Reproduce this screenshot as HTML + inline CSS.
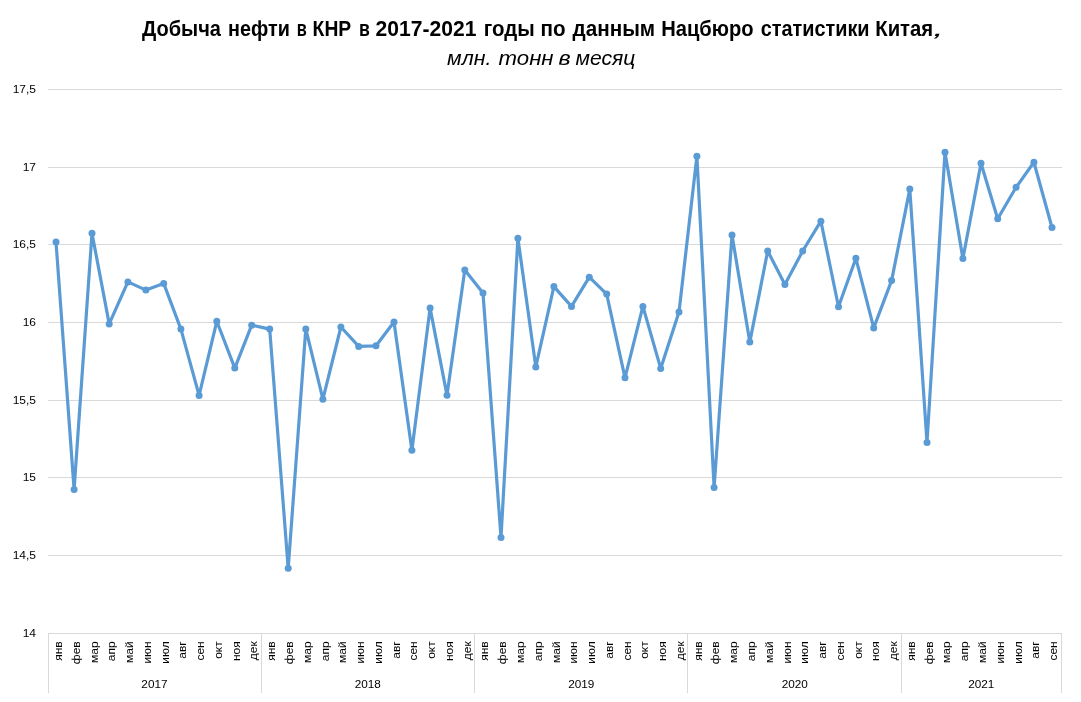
<!DOCTYPE html>
<html><head><meta charset="utf-8"><style>
html,body{margin:0;padding:0;background:#fff;width:1081px;height:702px;overflow:hidden}
svg{display:block;will-change:transform}
text{font-family:"Liberation Sans",sans-serif;fill:#000}
.ax{font-size:12px}
.mo{font-size:12px}
.t1{font-size:21.3px;font-weight:bold}
.t2{font-size:19.7px;font-style:italic;font-weight:normal}
</style></head><body>
<svg width="1081" height="702" viewBox="0 0 1081 702">
<rect x="48" y="89" width="1014" height="1" fill="#d9d9d9"/>
<rect x="48" y="167" width="1014" height="1" fill="#d9d9d9"/>
<rect x="48" y="244" width="1014" height="1" fill="#d9d9d9"/>
<rect x="48" y="322" width="1014" height="1" fill="#d9d9d9"/>
<rect x="48" y="400" width="1014" height="1" fill="#d9d9d9"/>
<rect x="48" y="477" width="1014" height="1" fill="#d9d9d9"/>
<rect x="48" y="555" width="1014" height="1" fill="#d9d9d9"/>
<rect x="48" y="633" width="1014" height="1" fill="#d9d9d9"/>
<rect x="48" y="633" width="1" height="60" fill="#d9d9d9"/>
<rect x="261" y="633" width="1" height="60" fill="#d9d9d9"/>
<rect x="474" y="633" width="1" height="60" fill="#d9d9d9"/>
<rect x="687" y="633" width="1" height="60" fill="#d9d9d9"/>
<rect x="901" y="633" width="1" height="60" fill="#d9d9d9"/>
<rect x="1061" y="633" width="1" height="60" fill="#d9d9d9"/>
<text transform="translate(36,93.3) scale(1,0.91)" text-anchor="end" class="ax">17,5</text>
<text transform="translate(36,171.3) scale(1,0.91)" text-anchor="end" class="ax">17</text>
<text transform="translate(36,248.3) scale(1,0.91)" text-anchor="end" class="ax">16,5</text>
<text transform="translate(36,326.3) scale(1,0.91)" text-anchor="end" class="ax">16</text>
<text transform="translate(36,404.3) scale(1,0.91)" text-anchor="end" class="ax">15,5</text>
<text transform="translate(36,481.3) scale(1,0.91)" text-anchor="end" class="ax">15</text>
<text transform="translate(36,559.3) scale(1,0.91)" text-anchor="end" class="ax">14,5</text>
<text transform="translate(36,637.3) scale(1,0.91)" text-anchor="end" class="ax">14</text>
<text transform="translate(61.9,641.3) rotate(-90) scale(1,0.9)" text-anchor="end" class="mo">янв</text>
<text transform="translate(79.7,641.3) rotate(-90) scale(1,0.9)" text-anchor="end" class="mo">фев</text>
<text transform="translate(97.5,641.3) rotate(-90) scale(1,0.9)" text-anchor="end" class="mo">мар</text>
<text transform="translate(115.2,641.3) rotate(-90) scale(1,0.9)" text-anchor="end" class="mo">апр</text>
<text transform="translate(133.0,641.3) rotate(-90) scale(1,0.9)" text-anchor="end" class="mo">май</text>
<text transform="translate(150.8,641.3) rotate(-90) scale(1,0.9)" text-anchor="end" class="mo">июн</text>
<text transform="translate(168.5,641.3) rotate(-90) scale(1,0.9)" text-anchor="end" class="mo">июл</text>
<text transform="translate(186.3,641.3) rotate(-90) scale(1,0.9)" text-anchor="end" class="mo">авг</text>
<text transform="translate(204.1,641.3) rotate(-90) scale(1,0.9)" text-anchor="end" class="mo">сен</text>
<text transform="translate(221.9,641.3) rotate(-90) scale(1,0.9)" text-anchor="end" class="mo">окт</text>
<text transform="translate(239.6,641.3) rotate(-90) scale(1,0.9)" text-anchor="end" class="mo">ноя</text>
<text transform="translate(257.4,641.3) rotate(-90) scale(1,0.9)" text-anchor="end" class="mo">дек</text>
<text transform="translate(275.2,641.3) rotate(-90) scale(1,0.9)" text-anchor="end" class="mo">янв</text>
<text transform="translate(292.9,641.3) rotate(-90) scale(1,0.9)" text-anchor="end" class="mo">фев</text>
<text transform="translate(310.7,641.3) rotate(-90) scale(1,0.9)" text-anchor="end" class="mo">мар</text>
<text transform="translate(328.5,641.3) rotate(-90) scale(1,0.9)" text-anchor="end" class="mo">апр</text>
<text transform="translate(346.2,641.3) rotate(-90) scale(1,0.9)" text-anchor="end" class="mo">май</text>
<text transform="translate(364.0,641.3) rotate(-90) scale(1,0.9)" text-anchor="end" class="mo">июн</text>
<text transform="translate(381.8,641.3) rotate(-90) scale(1,0.9)" text-anchor="end" class="mo">июл</text>
<text transform="translate(399.6,641.3) rotate(-90) scale(1,0.9)" text-anchor="end" class="mo">авг</text>
<text transform="translate(417.3,641.3) rotate(-90) scale(1,0.9)" text-anchor="end" class="mo">сен</text>
<text transform="translate(435.1,641.3) rotate(-90) scale(1,0.9)" text-anchor="end" class="mo">окт</text>
<text transform="translate(452.9,641.3) rotate(-90) scale(1,0.9)" text-anchor="end" class="mo">ноя</text>
<text transform="translate(470.6,641.3) rotate(-90) scale(1,0.9)" text-anchor="end" class="mo">дек</text>
<text transform="translate(488.4,641.3) rotate(-90) scale(1,0.9)" text-anchor="end" class="mo">янв</text>
<text transform="translate(506.2,641.3) rotate(-90) scale(1,0.9)" text-anchor="end" class="mo">фев</text>
<text transform="translate(523.9,641.3) rotate(-90) scale(1,0.9)" text-anchor="end" class="mo">мар</text>
<text transform="translate(541.7,641.3) rotate(-90) scale(1,0.9)" text-anchor="end" class="mo">апр</text>
<text transform="translate(559.5,641.3) rotate(-90) scale(1,0.9)" text-anchor="end" class="mo">май</text>
<text transform="translate(577.3,641.3) rotate(-90) scale(1,0.9)" text-anchor="end" class="mo">июн</text>
<text transform="translate(595.0,641.3) rotate(-90) scale(1,0.9)" text-anchor="end" class="mo">июл</text>
<text transform="translate(612.8,641.3) rotate(-90) scale(1,0.9)" text-anchor="end" class="mo">авг</text>
<text transform="translate(630.6,641.3) rotate(-90) scale(1,0.9)" text-anchor="end" class="mo">сен</text>
<text transform="translate(648.3,641.3) rotate(-90) scale(1,0.9)" text-anchor="end" class="mo">окт</text>
<text transform="translate(666.1,641.3) rotate(-90) scale(1,0.9)" text-anchor="end" class="mo">ноя</text>
<text transform="translate(683.9,641.3) rotate(-90) scale(1,0.9)" text-anchor="end" class="mo">дек</text>
<text transform="translate(701.6,641.3) rotate(-90) scale(1,0.9)" text-anchor="end" class="mo">янв</text>
<text transform="translate(719.4,641.3) rotate(-90) scale(1,0.9)" text-anchor="end" class="mo">фев</text>
<text transform="translate(737.2,641.3) rotate(-90) scale(1,0.9)" text-anchor="end" class="mo">мар</text>
<text transform="translate(754.9,641.3) rotate(-90) scale(1,0.9)" text-anchor="end" class="mo">апр</text>
<text transform="translate(772.7,641.3) rotate(-90) scale(1,0.9)" text-anchor="end" class="mo">май</text>
<text transform="translate(790.5,641.3) rotate(-90) scale(1,0.9)" text-anchor="end" class="mo">июн</text>
<text transform="translate(808.3,641.3) rotate(-90) scale(1,0.9)" text-anchor="end" class="mo">июл</text>
<text transform="translate(826.0,641.3) rotate(-90) scale(1,0.9)" text-anchor="end" class="mo">авг</text>
<text transform="translate(843.8,641.3) rotate(-90) scale(1,0.9)" text-anchor="end" class="mo">сен</text>
<text transform="translate(861.6,641.3) rotate(-90) scale(1,0.9)" text-anchor="end" class="mo">окт</text>
<text transform="translate(879.3,641.3) rotate(-90) scale(1,0.9)" text-anchor="end" class="mo">ноя</text>
<text transform="translate(897.1,641.3) rotate(-90) scale(1,0.9)" text-anchor="end" class="mo">дек</text>
<text transform="translate(914.9,641.3) rotate(-90) scale(1,0.9)" text-anchor="end" class="mo">янв</text>
<text transform="translate(932.6,641.3) rotate(-90) scale(1,0.9)" text-anchor="end" class="mo">фев</text>
<text transform="translate(950.4,641.3) rotate(-90) scale(1,0.9)" text-anchor="end" class="mo">мар</text>
<text transform="translate(968.2,641.3) rotate(-90) scale(1,0.9)" text-anchor="end" class="mo">апр</text>
<text transform="translate(986.0,641.3) rotate(-90) scale(1,0.9)" text-anchor="end" class="mo">май</text>
<text transform="translate(1003.7,641.3) rotate(-90) scale(1,0.9)" text-anchor="end" class="mo">июн</text>
<text transform="translate(1021.5,641.3) rotate(-90) scale(1,0.9)" text-anchor="end" class="mo">июл</text>
<text transform="translate(1039.3,641.3) rotate(-90) scale(1,0.9)" text-anchor="end" class="mo">авг</text>
<text transform="translate(1057.0,641.3) rotate(-90) scale(1,0.9)" text-anchor="end" class="mo">сен</text>
<text transform="translate(154.4,688.2) scale(0.98,0.91)" text-anchor="middle" class="ax">2017</text>
<text transform="translate(367.8,688.2) scale(0.98,0.91)" text-anchor="middle" class="ax">2018</text>
<text transform="translate(581.3,688.2) scale(0.98,0.91)" text-anchor="middle" class="ax">2019</text>
<text transform="translate(794.7,688.2) scale(0.98,0.91)" text-anchor="middle" class="ax">2020</text>
<text transform="translate(981.3,688.2) scale(0.98,0.91)" text-anchor="middle" class="ax">2021</text>
<polyline points="56.0,242.0 74.1,489.4 92.0,233.2 109.2,323.9 127.9,281.9 145.9,290.1 163.7,283.4 180.9,329.1 199.1,395.4 216.8,321.3 234.8,368.1 251.7,325.2 269.7,329.1 288.2,568.3 305.8,328.9 322.9,399.2 340.9,327.0 358.7,346.4 376.0,345.8 394.0,322.0 411.9,450.2 430.1,308.1 447.0,395.3 464.8,270.0 483.0,293.1 501.0,537.5 517.9,238.2 535.8,366.9 553.9,286.6 571.5,306.4 589.3,277.2 606.7,294.1 625.0,377.8 642.9,306.4 660.7,368.4 679.0,312.0 696.9,156.2 714.1,487.5 732.0,235.0 749.8,342.1 767.7,251.0 784.9,284.5 802.7,251.0 820.9,221.2 838.5,306.8 855.9,258.3 873.7,327.9 891.6,280.6 909.8,189.1 927.0,442.5 945.0,152.3 962.9,258.6 981.0,163.2 997.7,218.7 1016.1,187.3 1033.9,162.3 1052.0,227.5" fill="none" stroke="#5b9bd5" stroke-width="3.2" stroke-linejoin="round" stroke-linecap="round"/>
<circle cx="56.0" cy="242.0" r="3.5" fill="#5b9bd5"/>
<circle cx="74.1" cy="489.4" r="3.5" fill="#5b9bd5"/>
<circle cx="92.0" cy="233.2" r="3.5" fill="#5b9bd5"/>
<circle cx="109.2" cy="323.9" r="3.5" fill="#5b9bd5"/>
<circle cx="127.9" cy="281.9" r="3.5" fill="#5b9bd5"/>
<circle cx="145.9" cy="290.1" r="3.5" fill="#5b9bd5"/>
<circle cx="163.7" cy="283.4" r="3.5" fill="#5b9bd5"/>
<circle cx="180.9" cy="329.1" r="3.5" fill="#5b9bd5"/>
<circle cx="199.1" cy="395.4" r="3.5" fill="#5b9bd5"/>
<circle cx="216.8" cy="321.3" r="3.5" fill="#5b9bd5"/>
<circle cx="234.8" cy="368.1" r="3.5" fill="#5b9bd5"/>
<circle cx="251.7" cy="325.2" r="3.5" fill="#5b9bd5"/>
<circle cx="269.7" cy="329.1" r="3.5" fill="#5b9bd5"/>
<circle cx="288.2" cy="568.3" r="3.5" fill="#5b9bd5"/>
<circle cx="305.8" cy="328.9" r="3.5" fill="#5b9bd5"/>
<circle cx="322.9" cy="399.2" r="3.5" fill="#5b9bd5"/>
<circle cx="340.9" cy="327.0" r="3.5" fill="#5b9bd5"/>
<circle cx="358.7" cy="346.4" r="3.5" fill="#5b9bd5"/>
<circle cx="376.0" cy="345.8" r="3.5" fill="#5b9bd5"/>
<circle cx="394.0" cy="322.0" r="3.5" fill="#5b9bd5"/>
<circle cx="411.9" cy="450.2" r="3.5" fill="#5b9bd5"/>
<circle cx="430.1" cy="308.1" r="3.5" fill="#5b9bd5"/>
<circle cx="447.0" cy="395.3" r="3.5" fill="#5b9bd5"/>
<circle cx="464.8" cy="270.0" r="3.5" fill="#5b9bd5"/>
<circle cx="483.0" cy="293.1" r="3.5" fill="#5b9bd5"/>
<circle cx="501.0" cy="537.5" r="3.5" fill="#5b9bd5"/>
<circle cx="517.9" cy="238.2" r="3.5" fill="#5b9bd5"/>
<circle cx="535.8" cy="366.9" r="3.5" fill="#5b9bd5"/>
<circle cx="553.9" cy="286.6" r="3.5" fill="#5b9bd5"/>
<circle cx="571.5" cy="306.4" r="3.5" fill="#5b9bd5"/>
<circle cx="589.3" cy="277.2" r="3.5" fill="#5b9bd5"/>
<circle cx="606.7" cy="294.1" r="3.5" fill="#5b9bd5"/>
<circle cx="625.0" cy="377.8" r="3.5" fill="#5b9bd5"/>
<circle cx="642.9" cy="306.4" r="3.5" fill="#5b9bd5"/>
<circle cx="660.7" cy="368.4" r="3.5" fill="#5b9bd5"/>
<circle cx="679.0" cy="312.0" r="3.5" fill="#5b9bd5"/>
<circle cx="696.9" cy="156.2" r="3.5" fill="#5b9bd5"/>
<circle cx="714.1" cy="487.5" r="3.5" fill="#5b9bd5"/>
<circle cx="732.0" cy="235.0" r="3.5" fill="#5b9bd5"/>
<circle cx="749.8" cy="342.1" r="3.5" fill="#5b9bd5"/>
<circle cx="767.7" cy="251.0" r="3.5" fill="#5b9bd5"/>
<circle cx="784.9" cy="284.5" r="3.5" fill="#5b9bd5"/>
<circle cx="802.7" cy="251.0" r="3.5" fill="#5b9bd5"/>
<circle cx="820.9" cy="221.2" r="3.5" fill="#5b9bd5"/>
<circle cx="838.5" cy="306.8" r="3.5" fill="#5b9bd5"/>
<circle cx="855.9" cy="258.3" r="3.5" fill="#5b9bd5"/>
<circle cx="873.7" cy="327.9" r="3.5" fill="#5b9bd5"/>
<circle cx="891.6" cy="280.6" r="3.5" fill="#5b9bd5"/>
<circle cx="909.8" cy="189.1" r="3.5" fill="#5b9bd5"/>
<circle cx="927.0" cy="442.5" r="3.5" fill="#5b9bd5"/>
<circle cx="945.0" cy="152.3" r="3.5" fill="#5b9bd5"/>
<circle cx="962.9" cy="258.6" r="3.5" fill="#5b9bd5"/>
<circle cx="981.0" cy="163.2" r="3.5" fill="#5b9bd5"/>
<circle cx="997.7" cy="218.7" r="3.5" fill="#5b9bd5"/>
<circle cx="1016.1" cy="187.3" r="3.5" fill="#5b9bd5"/>
<circle cx="1033.9" cy="162.3" r="3.5" fill="#5b9bd5"/>
<circle cx="1052.0" cy="227.5" r="3.5" fill="#5b9bd5"/>
<text x="142.00" y="35.8" class="t1" textLength="79.00" lengthAdjust="spacingAndGlyphs">Добыча</text>
<text x="228.12" y="35.8" class="t1" textLength="61.76" lengthAdjust="spacingAndGlyphs">нефти</text>
<text x="296.84" y="35.8" class="t1" textLength="10.02" lengthAdjust="spacingAndGlyphs">в</text>
<text x="312.62" y="35.8" class="t1" textLength="38.60" lengthAdjust="spacingAndGlyphs">КНР</text>
<text x="358.98" y="35.8" class="t1" textLength="10.82" lengthAdjust="spacingAndGlyphs">в</text>
<text x="375.56" y="35.8" class="t1" textLength="100.88" lengthAdjust="spacingAndGlyphs">2017-2021</text>
<text x="483.76" y="35.8" class="t1" textLength="50.98" lengthAdjust="spacingAndGlyphs">годы</text>
<text x="540.48" y="35.8" class="t1" textLength="25.10" lengthAdjust="spacingAndGlyphs">по</text>
<text x="572.58" y="35.8" class="t1" textLength="82.52" lengthAdjust="spacingAndGlyphs">данным</text>
<text x="661.20" y="35.8" class="t1" textLength="92.46" lengthAdjust="spacingAndGlyphs">Нацбюро</text>
<text x="760.78" y="35.8" class="t1" textLength="108.74" lengthAdjust="spacingAndGlyphs">статистики</text>
<text x="875.26" y="35.8" class="t1" textLength="57.90" lengthAdjust="spacingAndGlyphs">Китая</text>
<text x="932.98" y="35.8" class="t2" textLength="11.10" lengthAdjust="spacingAndGlyphs">,</text>
<text x="447.14" y="64.8" class="t2" textLength="44.26" lengthAdjust="spacingAndGlyphs">млн.</text>
<text x="498.56" y="64.8" class="t2" textLength="55.02" lengthAdjust="spacingAndGlyphs">тонн</text>
<text x="558.56" y="64.8" class="t2" textLength="12.16" lengthAdjust="spacingAndGlyphs">в</text>
<text x="575.50" y="64.8" class="t2" textLength="59.80" lengthAdjust="spacingAndGlyphs">месяц</text>
</svg>
</body></html>
